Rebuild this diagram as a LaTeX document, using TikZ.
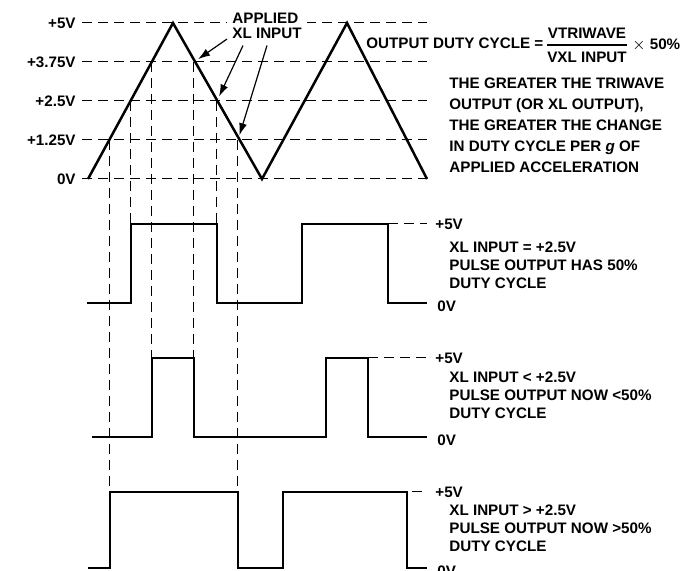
\documentclass[tikz,border=0pt]{standalone}
\usepackage{fontspec}
\setmainfont{Liberation Sans}
\usetikzlibrary{arrows.meta}
\begin{document}
\begin{tikzpicture}[x=0.5pt, y=-0.5pt,
    wave/.style={line width=1.25pt},
    guide/.style={line width=0.5pt, dash pattern=on 5pt off 3pt},
    ptr/.style={line width=0.6pt, -{Latex[length=6pt,width=4pt]}, shorten >=2.5pt},
    lbl/.style={font=\fontsize{7.6}{9}\selectfont\bfseries, inner sep=0pt},
    note/.style={lbl, align=left, anchor=base west}]
  \useasboundingbox (0,0) rectangle (693,571);
  % triangle wave and its levels
  \foreach \y/\v in {23/+5V, 62/+3.75V, 101/+2.5V, 140/+1.25V, 179/0V}{
      \draw[guide] (82,\y) -- (427,\y);
      \node[lbl, anchor=east] (lv\y) at (76,\y) {\v};
  }
  \draw[wave] (88,179) -- (173,23) -- (262,179) -- (347,23) -- (427,179);
  \foreach \x/\a/\b in {110/140/492, 131/101/224, 152/62/358, 194/62/358, 217/101/224, 238/140/492}{
      \draw[guide] (\x,\a) -- (\x,\b);
  }
  \coordinate (x1) at (194,62);
  \coordinate (x2) at (217,101);
  \coordinate (x3) at (238,140);
  % base anchor of a multi-line note = baseline of its last line
  \node[note, fill=white, inner xsep=2.5pt, inner ysep=0.5pt,
        font=\fontsize{7.6}{7.5}\selectfont\bfseries] (app) at (227,38.5) {APPLIED\\XL INPUT};
  \draw[ptr] ([shift={(0,-1)}]app.south west) -- (x1);
  \draw[ptr] ([shift={(16,5.5)}]app.south west) -- (x2);
  \draw[ptr] ([shift={(40,5.5)}]app.south west) -- (x3);
  % duty cycle formula
  \node[lbl, anchor=west] (odc) at (366,43) {OUTPUT DUTY CYCLE =};
  \node[lbl] (num) at (587,33) {VTRIWAVE};
  \node[lbl] (den) at (587,57) {VXL INPUT};
  \draw[line width=0.6pt] (547,45) -- (627,45);
  \node[lbl, anchor=west] (pct) at (632,45) {$\times$ 50\%};
  \node[note, font=\fontsize{7.6}{10.5}\selectfont\bfseries] (rule) at (449,172.5)
      {THE GREATER THE TRIWAVE\\OUTPUT (OR XL OUTPUT),\\THE GREATER THE CHANGE\\IN DUTY CYCLE PER \textit{g} OF\\APPLIED ACCELERATION};
  % pulse outputs
  \draw[wave] (87,303) -- (131,303) -- (131,224) -- (217,224) -- (217,303) -- (302,303)
      -- (302,224) -- (388,224) -- (388,303) -- (427,303);
  \draw[wave] (92,437) -- (152,437) -- (152,358) -- (194,358) -- (194,437) -- (326,437)
      -- (326,358) -- (368,358) -- (368,437) -- (427,437);
  \draw[wave] (88,568) -- (110,568) -- (110,492) -- (238,492) -- (238,568) -- (283,568)
      -- (283,492) -- (407,492) -- (407,568) -- (427,568);
  \draw[guide] (388,224) -- (427,224);
  \draw[guide] (368,358) -- (427,358);
  \draw[guide] (412,492) -- (422,492);
  \foreach \t/\b/\n in {224/303/1, 358/437/2, 492/568/3}{
      \node[lbl, anchor=west] (hi\n) at (435,\t) {+5V};
      \node[lbl, anchor=west] (lo\n) at (437,\b+3) {0V};
  }
  \node[note] (cond1) at (449,288.5) {XL INPUT = +2.5V\\PULSE OUTPUT HAS 50\%\\DUTY CYCLE};
  \node[note] (cond2) at (449,419) {XL INPUT < +2.5V\\PULSE OUTPUT NOW <50\%\\DUTY CYCLE};
  \node[note] (cond3) at (449,552) {XL INPUT > +2.5V\\PULSE OUTPUT NOW >50\%\\DUTY CYCLE};
\end{tikzpicture}
\end{document}
